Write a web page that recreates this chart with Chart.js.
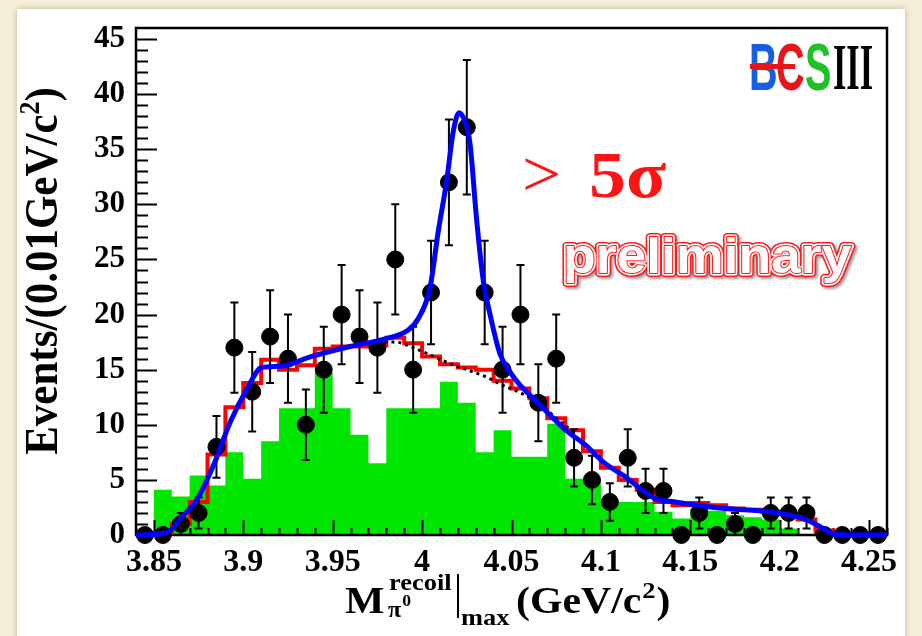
<!DOCTYPE html>
<html lang="en">
<head>
<meta charset="UTF-8" />
<title>pi0 recoil mass</title>
<style>
  html, body { margin: 0; padding: 0; }
  body { width: 922px; height: 636px; background: #f5eed9; position: relative; overflow: hidden; }
  .panel { position: absolute; left: 17px; top: 9px; width: 888px; height: 640px; background: #fff; box-shadow: 0 0 6px rgba(90, 70, 30, 0.35); }
  #chart { position: absolute; left: 0; top: 0; }
</style>
</head>
<body>
<div class="panel"></div>
<canvas id="chart" width="922" height="636"></canvas>

<script src="https://cdn.jsdelivr.net/npm/chart.js@4"></script>
<script>
// 10 MeV bins, 3.84 - 4.26 GeV/c^2
const binCenters = [3.845, 3.855, 3.865, 3.875, 3.885, 3.895, 3.905, 3.915, 3.925, 3.935,
  3.945, 3.955, 3.965, 3.975, 3.985, 3.995, 4.005, 4.015, 4.025, 4.035,
  4.045, 4.055, 4.065, 4.075, 4.085, 4.095, 4.105, 4.115, 4.125, 4.135,
  4.145, 4.155, 4.165, 4.175, 4.185, 4.195, 4.205, 4.215, 4.225, 4.235,
  4.245, 4.255];
const halfBin = 0.005;

// data (black points) and their errors
const dataCounts = [0, 0, 1, 2, 8, 17, 13, 18, 16, 10,
  15, 20, 18, 17, 25, 15, 22, 32, 37, 22,
  15, 20, 12, 16, 7, 5, 3, 7, 4, 4,
  0, 2, 0, 1, 0, 2, 2, 2, 0, 0,
  0, 0];
const dataErrors = [0, 0, 1, 1.4, 2.8, 4.1, 3.6, 4.2, 4, 3.2,
  3.9, 4.5, 4.2, 4.1, 5, 3.9, 4.7, 5.7, 6.1, 4.7,
  3.9, 4.5, 3.5, 4, 2.6, 2.2, 1.7, 2.6, 2, 2,
  0, 1.4, 0, 1, 0, 1.4, 1.4, 1.4, 0, 0,
  0, 0];

// green filled histogram
const greenHist = [0, 4.1, 3.5, 5.4, 4.5, 7.5, 5.1, 8.5, 11.5, 11.5,
  14.7, 11.5, 9.1, 6.5, 11.5, 11.5, 11.5, 13.9, 12.0, 7.5,
  9.5, 7.1, 7.1, 10.1, 5.1, 5.0, 3.0, 3.0, 3.0, 2.1,
  1.5, 2.4, 2.2, 1.8, 1.6, 1.4, 0.6, 0, 0, 0,
  0, 0];

// red step histogram
const redHist = [0, 0.2, 1.0, 3.0, 7.3, 11.6, 13.8, 15.9, 15.0, 15.4,
  16.9, 17.1, 17.1, 17.2, 17.9, 17.4, 16.2, 15.5, 15.2, 15.0,
  14.0, 13.3, 12.4, 10.6, 9.5, 7.6, 6.1, 5.0, 4.1, 3.0,
  2.7, 2.9, 2.7, 2.4, 2.3, 2.1, 1.9, 1.4, 0.4, 0,
  0, 0];

// total fit (blue)
const fitX = [3.840, 3.857, 3.866, 3.874, 3.883, 3.8926, 3.9019, 3.9103, 3.9205, 3.9383,
  3.9597, 3.9793, 3.9923, 3.9977, 4.0044, 4.0089, 4.0138, 4.0173, 4.0207, 4.0240,
  4.0268, 4.0305, 4.0342, 4.0380, 4.0436, 4.0500, 4.0548, 4.0641, 4.0805, 4.0911,
  4.1023, 4.1135, 4.1228, 4.1303, 4.1415, 4.1543, 4.1694, 4.1946, 4.2130, 4.2226,
  4.2298, 4.2350, 4.2600];
const fitY = [0, 0.2, 1.7, 3.2, 6.2, 10.2, 13.2, 15.2, 15.3, 16.2,
  17.1, 17.8, 18.6, 19.6, 22.4, 27.4, 32.2, 36.5, 38.3, 37.5,
  35.5, 28.6, 23.1, 20.0, 16.4, 14.6, 13.6, 12.1, 9.5, 8.2,
  6.5, 5.3, 4.1, 3.3, 3.0, 2.7, 2.4, 2.1, 1.5, 0.75,
  0.1, 0, 0];

// background shape under the peak (dotted)
const bkgX = [3.975, 3.985, 3.995, 4.005, 4.015, 4.025, 4.035, 4.045, 4.055, 4.065, 4.075, 4.085];
const bkgY = [17.5, 17.5, 17.0, 16.3, 15.6, 15.0, 14.4, 13.6, 12.9, 12.0, 10.6, 9.3];

const xTicks = [3.85, 3.9, 3.95, 4.0, 4.05, 4.1, 4.15, 4.2, 4.25];
const xTickLabels = ["3.85", "3.9", "3.95", "4", "4.05", "4.1", "4.15", "4.2", "4.25"];
const yTicks = [0, 5, 10, 15, 20, 25, 30, 35, 40, 45];
const yTickLabels = ["0", "5", "10", "15", "20", "25", "30", "35", "40", "45"];

const SERIF = '"Liberation Serif", "Times New Roman", serif';

// histogram -> points on bin edges for stepped lines
function stepPoints(hist) {
  const pts = binCenters.map((c, i) => ({ x: c - halfBin, y: hist[i] }));
  pts.push({ x: binCenters[binCenters.length - 1] + halfBin, y: hist[hist.length - 1] });
  return pts;
}

const dataPts = binCenters.map((c, i) => ({ x: c, y: dataCounts[i] }));
const fitPts = fitX.map((x, i) => ({ x: x, y: fitY[i] }));
const bkgPts = bkgX.map((x, i) => ({ x: x, y: bkgY[i] }));

const DATA_INDEX = 1;
const GREEN_INDEX = 4;

// error bars drawn just under the markers
const errorBars = {
  id: "errorBars",
  beforeDatasetDraw(chart, args) {
    if (args.index !== DATA_INDEX) return;
    const { ctx, scales: { x, y } } = chart;
    ctx.save();
    ctx.strokeStyle = "#000";
    ctx.lineWidth = 2;
    ctx.beginPath();
    binCenters.forEach((c, i) => {
      const e = dataErrors[i];
      if (!e) return;
      const px = x.getPixelForValue(c);
      const top = y.getPixelForValue(dataCounts[i] + e);
      const bot = y.getPixelForValue(dataCounts[i] - e);
      ctx.moveTo(px, top); ctx.lineTo(px, bot);
      ctx.moveTo(px - 4, top); ctx.lineTo(px + 4, top);
      ctx.moveTo(px - 4, bot); ctx.lineTo(px + 4, bot);
    });
    ctx.stroke();
    ctx.restore();
  }
};

// frame + inward ticks, drawn over the green fill
const frame = {
  id: "frame",
  afterDatasetDraw(chart, args) {
    if (args.index !== GREEN_INDEX) return;
    const { ctx, chartArea: a, scales: { x, y } } = chart;
    ctx.save();
    ctx.strokeStyle = "#000";
    ctx.lineWidth = 2;
    ctx.beginPath();
    for (let v = 0; v <= 45; v++) {
      const py = Math.round(y.getPixelForValue(v)) + 0.5;
      const len = v % 5 === 0 ? 21 : 12;
      ctx.moveTo(a.left, py); ctx.lineTo(a.left + len, py);
    }
    for (let k = 384; k <= 426; k++) {
      const px = Math.round(x.getPixelForValue(k / 100)) + 0.5;
      const len = k % 5 === 0 ? 15 : 7;
      ctx.moveTo(px, a.bottom); ctx.lineTo(px, a.bottom - len);
    }
    ctx.stroke();
    ctx.lineWidth = 2.5;
    ctx.strokeRect(a.left, a.top, a.right - a.left, a.bottom - a.top);
    ctx.restore();
  }
};

function stretchedText(ctx, s, x, y, font, color, sx) {
  ctx.save();
  ctx.font = font;
  ctx.fillStyle = color;
  ctx.translate(x, y);
  ctx.scale(sx, 1);
  ctx.fillText(s, 0, 0);
  const w = ctx.measureText(s).width * sx;
  ctx.restore();
  return w;
}

// axis titles, significance, "preliminary" stamp and the BESIII logo
const annotations = {
  id: "annotations",
  afterDraw(chart) {
    const ctx = chart.ctx;
    ctx.save();
    ctx.textAlign = "left";
    ctx.textBaseline = "alphabetic";

    // y title
    ctx.save();
    ctx.translate(57, 271);
    ctx.rotate(-Math.PI / 2);
    ctx.scale(1, 1.1);
    ctx.fillStyle = "#000";
    const big = "bold 43px " + SERIF, sup = "bold 26px " + SERIF;
    ctx.font = big;
    const w1 = ctx.measureText("Events/(0.01GeV/c").width;
    const w3 = ctx.measureText(")").width;
    ctx.font = sup;
    const w2 = ctx.measureText("2").width;
    let tx = -(w1 + w2 + w3) / 2;
    ctx.font = big; ctx.fillText("Events/(0.01GeV/c", tx, 0); tx += w1;
    ctx.font = sup; ctx.fillText("2", tx, -16); tx += w2;
    ctx.font = big; ctx.fillText(")", tx, 0);
    ctx.restore();

    // x title: M^{recoil}_{pi0}|_{max}(GeV/c^2)
    const xf = "bold 38px " + SERIF, xs = "bold 24px " + SERIF;
    stretchedText(ctx, "M", 345, 613, xf, "#000", 1.1);
    stretchedText(ctx, "recoil", 389, 590, xs, "#000", 1.1);
    const wpi = stretchedText(ctx, "\u03c0", 388, 617, xs, "#000", 1.0);
    stretchedText(ctx, "0", 388 + wpi + 1, 606, "bold 16px " + SERIF, "#000", 1.1);
    ctx.save();
    ctx.strokeStyle = "#000"; ctx.lineWidth = 2;
    ctx.beginPath(); ctx.moveTo(458, 574); ctx.lineTo(458, 618); ctx.stroke();
    ctx.restore();
    stretchedText(ctx, "max", 461, 625, xs, "#000", 1.1);
    let gx = 516;
    gx += stretchedText(ctx, "(GeV/c", gx, 613, xf, "#000", 1.1);
    gx += stretchedText(ctx, "2", gx + 1, 598, xs, "#000", 1.1) + 2;
    stretchedText(ctx, ")", gx, 613, xf, "#000", 1.1);

    // > 5 sigma
    stretchedText(ctx, ">", 522, 196, "66px " + SERIF, "#ff1414", 1.05);
    stretchedText(ctx, "5\u03c3", 589, 197, "bold 66px " + SERIF, "#ff1414", 1.12);

    // hollow "preliminary"
    ctx.save();
    ctx.translate(563, 273);
    ctx.scale(1.07, 1);
    ctx.font = 'bold 50px "Liberation Sans", Arial, sans-serif';
    ctx.lineJoin = "round";
    ctx.shadowColor = "rgba(0,0,0,0.4)";
    ctx.shadowBlur = 3; ctx.shadowOffsetX = 2; ctx.shadowOffsetY = 2;
    ctx.strokeStyle = "#ff1a1a"; ctx.lineWidth = 8;
    ctx.strokeText("preliminary", 0, 0);
    ctx.shadowColor = "transparent";
    ctx.strokeStyle = "#fff"; ctx.lineWidth = 5;
    ctx.strokeText("preliminary", 0, 0);
    ctx.strokeStyle = "#ff1a1a"; ctx.lineWidth = 2;
    ctx.strokeText("preliminary", 0, 0);
    ctx.fillStyle = "#fff";
    ctx.fillText("preliminary", 0, 0);
    ctx.restore();

    // BESIII logo
    const lf = 'bold 66px "Liberation Sans", Arial, sans-serif';
    stretchedText(ctx, "B", 749, 90, lf, "#1560e0", 0.6);
    stretchedText(ctx, "C", 776, 90, lf, "#e8141c", 0.6);
    ctx.fillStyle = "#e8141c";
    ctx.fillRect(750, 64, 45, 5);
    stretchedText(ctx, "S", 805, 90, lf, "#20c028", 0.6);
    stretchedText(ctx, "III", 833, 89, "bold 66px " + SERIF, "#000", 0.52);

    ctx.restore();
  }
};

const xTickFont = { family: SERIF, weight: "bold", size: 32 };
const yTickFont = { family: SERIF, weight: "bold", size: 31 };

new Chart(document.getElementById("chart").getContext("2d"), {
  type: "scatter",
  data: {
    datasets: [
      {
        type: "line", label: "fit", data: fitPts,
        borderColor: "#0000ff", borderWidth: 5, pointRadius: 0,
        cubicInterpolationMode: "monotone", fill: false, clip: 6
      },
      {
        type: "scatter", label: "data", data: dataPts,
        backgroundColor: "#000", borderColor: "#000", borderWidth: 1,
        pointRadius: 8.5, clip: 12
      },
      {
        type: "line", label: "background", data: bkgPts,
        borderColor: "#000", borderWidth: 3, borderDash: [3, 4], pointRadius: 0,
        cubicInterpolationMode: "monotone", fill: false
      },
      {
        type: "line", label: "red", data: stepPoints(redHist),
        stepped: true, borderColor: "#ff0000", borderWidth: 4, pointRadius: 0, fill: false
      },
      {
        type: "line", label: "green", data: stepPoints(greenHist),
        stepped: true, borderColor: "rgba(0,0,0,0)", borderWidth: 0, pointRadius: 0,
        backgroundColor: "#00e600", fill: "origin"
      }
    ]
  },
  options: {
    responsive: false,
    animation: false,
    devicePixelRatio: 1,
    events: [],
    layout: { padding: { top: 28, right: 35, left: 0, bottom: 0 } },
    plugins: { legend: { display: false }, tooltip: { enabled: false } },
    scales: {
      x: {
        type: "linear", min: 3.84, max: 4.26,
        grid: { display: false }, border: { display: false },
        afterBuildTicks: (s) => { s.ticks = xTicks.map((v) => ({ value: v })); },
        afterFit: (s) => { s.height = 101; },
        ticks: {
          font: xTickFont, color: "#000", padding: 1, maxRotation: 0, autoSkip: false,
          callback: (v, i) => xTickLabels[i]
        }
      },
      y: {
        type: "linear", min: 0, max: 46,
        grid: { display: false }, border: { display: false },
        afterBuildTicks: (s) => { s.ticks = yTicks.map((v) => ({ value: v })); },
        afterFit: (s) => { s.width = 136; },
        ticks: {
          font: yTickFont, color: "#000", padding: 3, autoSkip: false,
          callback: (v, i) => yTickLabels[i]
        }
      }
    }
  },
  plugins: [errorBars, frame, annotations]
});
</script>
</body>
</html>
